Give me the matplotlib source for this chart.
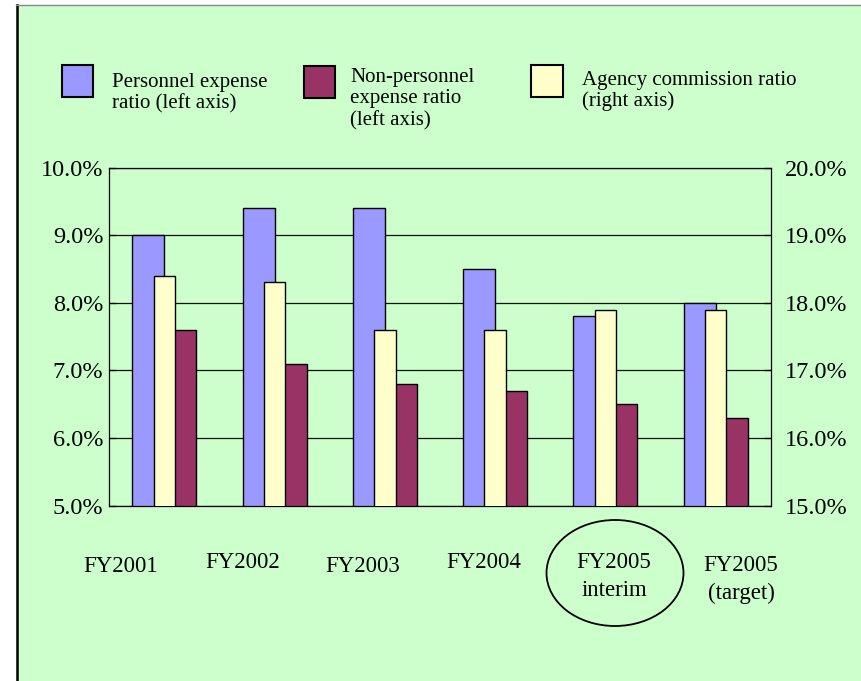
import matplotlib.pyplot as plt
from matplotlib.patches import Rectangle, Ellipse
from matplotlib.lines import Line2D
from matplotlib.ticker import FormatStrFormatter
from matplotlib.transforms import blended_transform_factory

plt.rcParams['font.family'] = ['Liberation Serif', 'DejaVu Serif']

# Data (percent)
categories = ["FY2001", "FY2002", "FY2003", "FY2004", "FY2005\ninterim", "FY2005\n(target)"]
personnel = [9.0, 9.4, 9.4, 8.5, 7.8, 8.0]          # left axis
non_personnel = [7.6, 7.1, 6.8, 6.7, 6.5, 6.3]      # left axis
agency = [18.4, 18.3, 17.6, 17.6, 17.9, 17.9]       # right axis

legend_labels = [
    ["Personnel expense", "ratio (left axis)"],
    ["Non-personnel", "expense ratio", "(left axis)"],
    ["Agency commission ratio", "(right axis)"],
]

BLUE = "#9999FF"
MAROON = "#993366"
CREAM = "#FFFFCC"
BG = "#CCFFCC"

W, H = 861, 681
fig = plt.figure(figsize=(W / 100, H / 100), dpi=100)
fig.patch.set_facecolor("white")


def fx(px):
    return px / W


def fy(py):
    return 1 - py / H


# green panel with a frame on the left and top
fig.patches.append(Rectangle((fx(17), 0), 1 - fx(17), fy(4.5), transform=fig.transFigure,
                             facecolor=BG, edgecolor="none", zorder=-5))
fig.lines.append(Line2D([fx(17.2), fx(17.2)], [0, fy(4.5)], transform=fig.transFigure,
                        color="black", lw=1.8))
fig.lines.append(Line2D([fx(16), 1], [fy(4.5), fy(4.5)], transform=fig.transFigure,
                        color="#888888", lw=1.0))

ax = fig.add_axes([fx(109.3), fy(505.7), fx(770.7 - 109.3), (505.7 - 167.5) / H])
ax.set_facecolor("none")
ax2 = ax.twinx()

x = list(range(len(categories)))
bw = 0.29
ax.bar([i - bw / 2 for i in x], personnel, width=bw, color=BLUE, edgecolor="black", lw=1.0, zorder=2)
ax.bar([i + bw / 2 for i in x], non_personnel, width=bw, color=MAROON, edgecolor="black", lw=1.0, zorder=2)
ax2.bar(x, agency, width=0.196, color=CREAM, edgecolor="black", lw=1.0, zorder=2)

ax.set_xlim(-0.5, len(categories) - 0.5)
ax.set_ylim(5, 10)
ax2.set_ylim(15, 20)
ax.set_yticks([5, 6, 7, 8, 9, 10])
ax2.set_yticks([15, 16, 17, 18, 19, 20])
ax.yaxis.set_major_formatter(FormatStrFormatter("%.1f%%"))
ax2.yaxis.set_major_formatter(FormatStrFormatter("%.1f%%"))
ax.set_xticks([])

ax.grid(axis="y", color="#111111", lw=0.9)
ax.set_axisbelow(True)

ax.tick_params(axis="y", direction="in", length=5, width=0.9, labelsize=17.5, pad=4.3)
ax2.tick_params(axis="y", direction="in", length=5, width=0.9, labelsize=17.5, pad=10)

for s in ["left", "bottom", "top"]:
    ax.spines[s].set_linewidth(0.9)
ax.spines["right"].set_visible(False)
for s in ["left", "bottom", "top"]:
    ax2.spines[s].set_visible(False)
ax2.spines["right"].set_linewidth(0.9)

# category labels, set freely below the plot
label_x = [-0.40, 0.706, 1.803, 2.90, 4.079, 5.231]
label_base = [572, 568, 572, 568, 568, 571]
below = blended_transform_factory(ax.transData, fig.transFigure)
for lx, lb, name in zip(label_x, label_base, categories):
    for k, line in enumerate(name.split("\n")):
        ax.text(lx, fy(lb + k * 28), line, transform=below, clip_on=False,
                ha="center", va="baseline", fontsize=16.5)

fig.patches.append(Ellipse((fx(615), fy(573)), fx(137), 106 / H, transform=fig.transFigure,
                           facecolor="none", edgecolor="black", lw=1.3))

# legend drawn by hand
legend_boxes = [(61.7, 65), (303.5, 66), (531, 65)]
legend_text_x = [112, 350, 582]
legend_baselines = [[86.5, 108.5], [82, 103.5, 125], [85, 106]]
for (bx, by), tx, bases, lines, col in zip(legend_boxes, legend_text_x, legend_baselines,
                                           legend_labels, [BLUE, MAROON, CREAM]):
    fig.patches.append(Rectangle((fx(bx), fy(by + 31.5)), fx(31.5), 31.5 / H, transform=fig.transFigure,
                                 facecolor=col, edgecolor="black", lw=1.5))
    for b, line in zip(bases, lines):
        fig.text(fx(tx), fy(b), line, ha="left", va="baseline", fontsize=15)

fig.savefig("out.png", dpi=100)
